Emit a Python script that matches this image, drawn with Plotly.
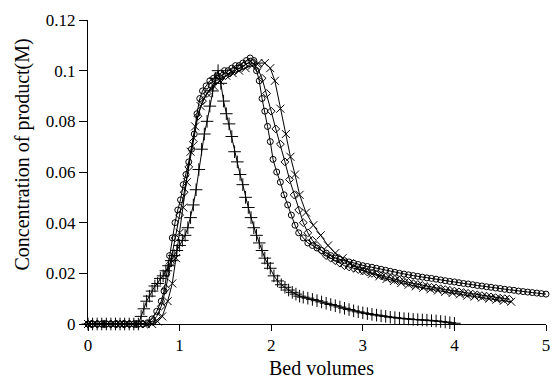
import plotly.graph_objects as go

# Series 1: "+" markers
bv_plus = [0.00,0.05,0.10,0.15,0.20,0.25,0.30,0.35,0.40,0.45,0.50,0.55,0.58,0.61,0.64,0.67,0.70,0.73,0.76,0.79,0.82,0.85,0.88,0.91,0.94,0.97,1.00,1.03,1.06,1.09,1.12,1.15,1.18,1.21,1.24,1.27,1.30,1.33,1.36,1.39,1.42,1.45,1.48,1.51,1.54,1.57,1.60,1.63,1.66,1.69,1.72,1.75,1.78,1.81,1.84,1.87,1.90,1.93,1.96,1.99,2.03,2.07,2.11,2.15,2.19,2.23,2.27,2.31,2.35,2.40,2.45,2.50,2.55,2.60,2.65,2.70,2.75,2.80,2.85,2.90,2.95,3.00,3.05,3.10,3.15,3.20,3.25,3.30,3.35,3.40,3.45,3.50,3.55,3.60,3.65,3.70,3.75,3.80,3.85,3.90,3.95,4.00]
c_plus = [0,0,0,0,0,0,0,0,0,0,0,0,0.003,0.006,0.009,0.011,0.013,0.015,0.016,0.018,0.019,0.021,0.023,0.025,0.027,0.029,0.031,0.033,0.035,0.038,0.042,0.047,0.053,0.061,0.069,0.075,0.080,0.086,0.092,0.097,0.100,0.095,0.088,0.083,0.079,0.074,0.068,0.064,0.059,0.055,0.050,0.046,0.042,0.038,0.035,0.032,0.029,0.026,0.024,0.022,0.019,0.017,0.0155,0.0145,0.0134,0.0125,0.0118,0.011,0.0106,0.0102,0.0097,0.0092,0.0087,0.0082,0.0077,0.0072,0.0067,0.0062,0.0057,0.0052,0.0048,0.0044,0.0041,0.0038,0.0035,0.0032,0.0030,0.0027,0.0025,0.0023,0.0021,0.0020,0.0018,0.0017,0.0016,0.0015,0.0013,0.0012,0.0010,0.0008,0.0005,0.0003]

# Series 2: open circles
bv_circ = [0.00,0.05,0.10,0.15,0.20,0.25,0.30,0.35,0.40,0.45,0.50,0.55,0.60,0.65,0.70,0.75,0.80,0.83,0.86,0.89,0.92,0.95,0.98,1.01,1.04,1.07,1.10,1.13,1.16,1.19,1.22,1.25,1.29,1.33,1.37,1.41,1.45,1.49,1.53,1.57,1.61,1.65,1.69,1.73,1.77,1.81,1.84,1.87,1.90,1.93,1.96,1.99,2.02,2.06,2.10,2.14,2.18,2.22,2.26,2.30,2.35,2.40,2.45,2.50,2.55,2.60,2.65,2.70,2.75,2.80,2.85,2.90,2.95,3.00,3.05,3.10,3.15,3.20,3.25,3.30,3.35,3.40,3.45,3.50,3.55,3.60,3.65,3.70,3.75,3.80,3.85,3.90,3.95,4.00,4.05,4.10,4.15,4.20,4.25,4.30,4.35,4.40,4.45,4.50,4.55,4.60,4.65,4.70,4.75,4.80,4.85,4.90,4.95,5.00]
c_circ = [0,0,0,0,0,0,0,0,0,0,0,0,0,0.0005,0.002,0.005,0.009,0.013,0.020,0.027,0.034,0.040,0.045,0.049,0.055,0.059,0.064,0.069,0.075,0.083,0.089,0.092,0.094,0.096,0.097,0.098,0.099,0.100,0.100,0.101,0.102,0.102,0.103,0.104,0.105,0.104,0.100,0.096,0.089,0.084,0.078,0.072,0.065,0.060,0.056,0.051,0.047,0.043,0.039,0.036,0.034,0.032,0.031,0.030,0.029,0.028,0.027,0.026,0.0255,0.025,0.0245,0.024,0.0235,0.023,0.0227,0.0224,0.022,0.0216,0.0212,0.0208,0.0204,0.020,0.0197,0.0194,0.0191,0.0188,0.0185,0.0182,0.018,0.0177,0.0174,0.0171,0.0168,0.0166,0.0163,0.016,0.0158,0.0155,0.0152,0.015,0.0147,0.0145,0.0142,0.014,0.0137,0.0135,0.0133,0.013,0.0128,0.0126,0.0124,0.0122,0.012,0.0118]

# Series 3: open diamonds
bv_diam = [0.00,0.05,0.10,0.15,0.20,0.25,0.30,0.35,0.40,0.45,0.50,0.55,0.60,0.65,0.70,0.75,0.80,0.85,0.90,0.95,1.00,1.05,1.10,1.15,1.20,1.25,1.30,1.35,1.40,1.45,1.50,1.55,1.60,1.65,1.70,1.75,1.80,1.85,1.90,1.95,2.00,2.05,2.10,2.15,2.20,2.25,2.30,2.35,2.40,2.45,2.50,2.55,2.60,2.65,2.70,2.75,2.80,2.85,2.90,2.95,3.00,3.05,3.10,3.15,3.20,3.25,3.30,3.35,3.40,3.45,3.50,3.55,3.60,3.65,3.70,3.75,3.80,3.85,3.90,3.95,4.00,4.05,4.10,4.15,4.20,4.25,4.30,4.35,4.40,4.45,4.50,4.55,4.60]
c_diam = [0,0,0,0,0,0,0,0,0,0,0,0,0,0,0.001,0.003,0.007,0.014,0.024,0.034,0.043,0.052,0.062,0.072,0.082,0.088,0.091,0.094,0.096,0.097,0.098,0.099,0.100,0.101,0.102,0.103,0.103,0.101,0.097,0.091,0.084,0.077,0.071,0.064,0.057,0.051,0.045,0.040,0.036,0.033,0.031,0.029,0.027,0.026,0.025,0.024,0.023,0.0225,0.022,0.0215,0.021,0.0205,0.020,0.0195,0.019,0.0185,0.018,0.0176,0.0172,0.0168,0.0164,0.016,0.0156,0.0152,0.0148,0.0145,0.0142,0.0139,0.0136,0.0133,0.013,0.0127,0.0124,0.0121,0.0118,0.0115,0.0112,0.011,0.0107,0.0104,0.0102,0.010,0.0098]

# Series 4: "x" markers
bv_x = [0.00,0.07,0.14,0.21,0.28,0.35,0.42,0.49,0.56,0.63,0.70,0.76,0.81,0.87,0.92,0.96,1.00,1.04,1.08,1.12,1.17,1.23,1.30,1.37,1.44,1.51,1.58,1.65,1.72,1.79,1.86,1.93,1.99,2.04,2.10,2.16,2.21,2.26,2.31,2.38,2.46,2.54,2.62,2.70,2.78,2.86,2.94,3.02,3.10,3.18,3.26,3.34,3.42,3.50,3.58,3.66,3.74,3.82,3.90,3.98,4.06,4.14,4.22,4.30,4.38,4.46,4.54,4.62]
c_x = [0,0,0,0,0,0,0,0,0,0,0,0.001,0.003,0.009,0.016,0.026,0.036,0.046,0.056,0.068,0.078,0.086,0.091,0.094,0.096,0.098,0.099,0.100,0.101,0.102,0.103,0.103,0.101,0.096,0.085,0.075,0.066,0.059,0.051,0.044,0.039,0.035,0.031,0.028,0.026,0.024,0.022,0.021,0.0198,0.0188,0.0178,0.017,0.0162,0.0155,0.0149,0.0143,0.0137,0.0132,0.0127,0.0122,0.0117,0.0112,0.0108,0.0104,0.010,0.0096,0.0092,0.0088]

x_ticks = [0, 1, 2, 3, 4, 5]
y_ticks = [0, 0.02, 0.04, 0.06, 0.08, 0.1, 0.12]

FONT = "Liberation Serif"
TICKFONT = dict(family=FONT, size=17, color="black")

fig = go.Figure()

def add(bv, c, symbol, size):
    fig.add_trace(go.Scatter(
        x=bv, y=c, mode="lines+markers",
        line=dict(color="black", width=1),
        marker=dict(symbol=symbol, size=size, color="black",
                    line=dict(color="black", width=1)),
        cliponaxis=False, showlegend=False,
    ))

add(bv_circ, c_circ, "circle-open", 6)
add(bv_diam, c_diam, "diamond-open", 6)
add(bv_x, c_x, "x-thin", 8)
add(bv_plus, c_plus, "cross-thin", 9)

fig.update_layout(
    width=555, height=382,
    margin=dict(l=88, r=5, t=20, b=58),
    paper_bgcolor="white", plot_bgcolor="white",
    font=dict(family=FONT, size=17, color="black"),
    xaxis=dict(range=[0, 5], tickvals=x_ticks, ticktext=[str(v) for v in x_ticks],
               tickfont=TICKFONT,
               showline=True, linecolor="black", linewidth=1,
               ticks="outside", ticklen=6, tickcolor="black",
               showgrid=False, zeroline=False),
    yaxis=dict(range=[0, 0.12], tickvals=y_ticks, ticktext=[("%g" % v) for v in y_ticks],
               tickfont=TICKFONT,
               showline=True, linecolor="black", linewidth=1,
               ticks="outside", ticklen=8, tickcolor="black",
               showgrid=False, zeroline=False),
    annotations=[
        dict(text="Bed volumes", xref="paper", yref="paper", x=0.509, y=-0.145,
             xanchor="center", yanchor="middle", showarrow=False,
             font=dict(family=FONT, size=20, color="black")),
        dict(text="Concentration of product(M)", xref="paper", yref="paper",
             x=-0.143, y=0.556, textangle=-90, xanchor="center", yanchor="middle",
             showarrow=False, font=dict(family=FONT, size=20, color="black")),
    ],
)

fig.write_html("out.html")
